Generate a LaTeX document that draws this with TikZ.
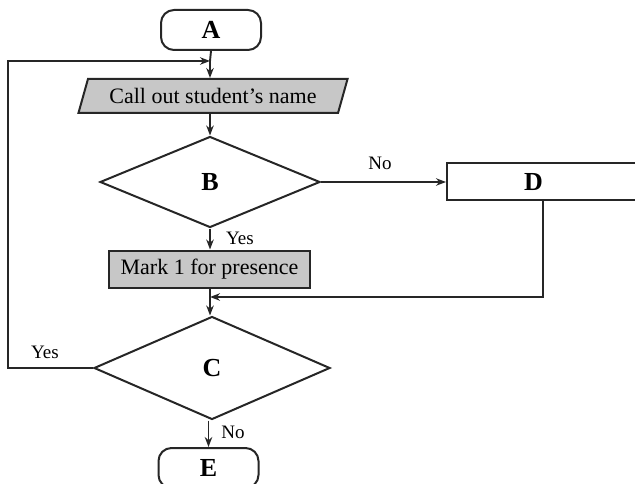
\documentclass[tikz,border=0pt]{standalone}
\usepackage{fontspec}
\setmainfont{Liberation Serif}
\usetikzlibrary{shapes.geometric,arrows.meta}
\begin{document}
\begin{tikzpicture}[x=1pt,y=-1pt,
  every node/.style={font=\fontsize{22}{24}\selectfont},
  base/.style={draw=black!85, line width=2pt, inner sep=0pt},
  term/.style={base, rounded corners=13pt, minimum width=100pt, minimum height=40pt, font=\fontsize{26}{28}\selectfont\bfseries},
  io/.style={base, trapezium, trapezium left angle=63, trapezium right angle=117, trapezium stretches=true, minimum width=270pt, minimum height=34pt, fill=black!22},
  dec/.style={base, diamond, font=\fontsize{26}{28}\selectfont\bfseries},
  proc/.style={base, fill=black!22, minimum width=201pt, minimum height=37pt},
  plain/.style={base, minimum width=213pt, minimum height=37pt, font=\fontsize{26}{28}\selectfont\bfseries},
  lbl/.style={font=\fontsize{19}{21}\selectfont},
  conn/.style={draw=black!85, line width=1.9pt, -{Stealth[length=10pt,width=7.5pt]}},
  line/.style={draw=black!85, line width=1.9pt}
]
\useasboundingbox (0,0) rectangle (635,484);
\node[term] (A) at (211,30) {A};
\coordinate (J) at (210,61);
\node[io] (P) at (213,96) {Call out student's name};
\node[dec, minimum width=220pt, minimum height=91pt] (B) at (210,182) {B};
\node[plain] (D) at (553.5,182) {D\kern40pt\relax};
\node[proc] (M) at (209.5,269) {Mark 1 for presence};
\coordinate (K) at (210,297);
\node[dec, minimum width=236pt, minimum height=103pt] (C) at (212,368) {C};
\node[term] (E) at (208.5,468) {E};
\coordinate (L) at (8,368);
\coordinate (L2) at (8,61);
\coordinate (Dd) at (543,297);

\draw[line] (A.south) -- (J);
\draw[conn] (J) -- (P.north -| J);
\draw[conn] (P.south -| J) -- (B.north);
\draw[conn] (B.east) -- (D.west);
\draw[conn] (B.south) -- (M.north -| B.south);
\draw[line] (M.south -| K) -- (K);
\draw[conn] (K) -- (C.north -| K);
\draw[conn] (D.south -| Dd) -- (Dd) -- (K);
\draw[conn] (C.west) -- (L) -- (L2) -- (J);
\draw[conn] (C.south -| E.north) -- (E.north);

\node[lbl] (lno1) at (380,163) {No};
\node[lbl] (lyes1) at (240,238) {Yes};
\node[lbl] (lyes2) at (45,352) {Yes};
\node[lbl] (lno2) at (233,432) {No};
\end{tikzpicture}
\end{document}
